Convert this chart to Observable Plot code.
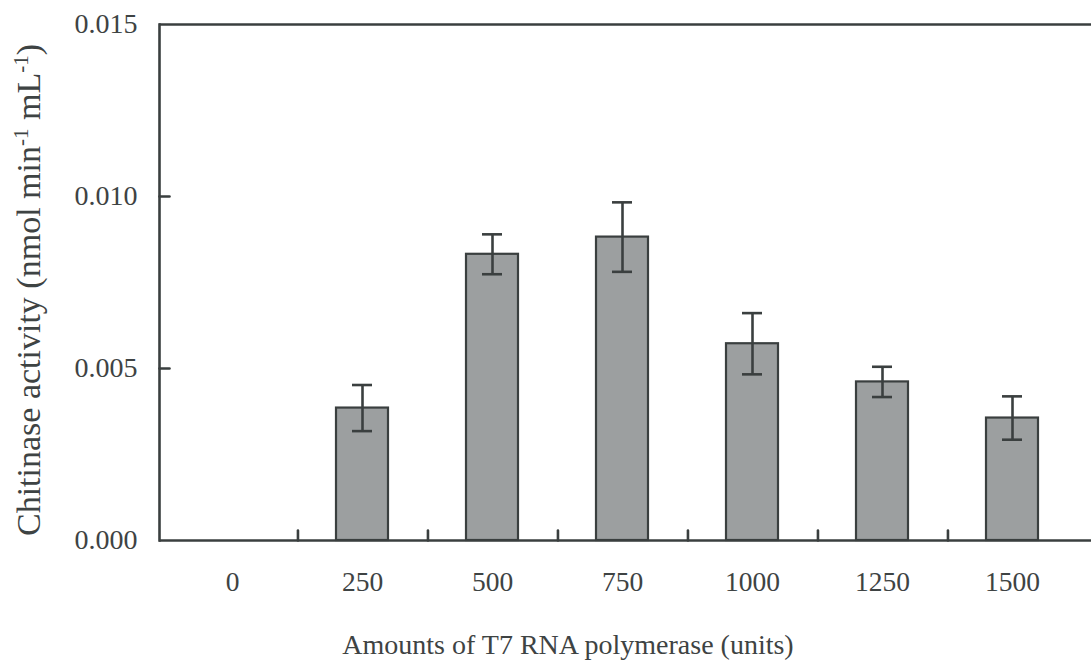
<!DOCTYPE html>
<html>
<head>
<meta charset="utf-8">
<script src="https://cdn.jsdelivr.net/npm/d3@7"></script>
<script src="https://cdn.jsdelivr.net/npm/@observablehq/plot@0.6"></script>
<style>
  html, body { margin: 0; padding: 0; background: #fff; }
  #chart { width: 1091px; height: 665px; }
</style>
</head>
<body>
<div id="chart"></div>
<script>
// ---- data ----
const categories = ["0", "250", "500", "750", "1000", "1250", "1500"];
const activity   = [0, 0.00385, 0.00832, 0.00882, 0.00572, 0.00461, 0.00356];
const errors     = [0, 0.00067, 0.00058, 0.00101, 0.00089, 0.00044, 0.00063];
const yTickValues = [0, 0.005, 0.010, 0.015];
const xTitle = "Amounts of T7 RNA polymerase (units)";
const yTitleParts = [
  {t: "Chitinase activity (nmol min", sup: false},
  {t: "-1", sup: true},
  {t: " mL", sup: false},
  {t: "-1", sup: true},
  {t: ")", sup: false}
];

const rows = categories.map((c, i) => ({cat: c, v: activity[i], e: errors[i]}));
const drawn = rows.filter(d => d.v > 0);

const W = 1091, H = 665;
const xRange = [164, 1080.5];
const step = (xRange[1] - xRange[0]) / categories.length;
const ink = "#3a3f3f";
const textInk = "#3e4343";
const font = "'Liberation Serif', 'Times New Roman', serif";

const lineShape = {draw(ctx, l) { ctx.moveTo(0, 0); ctx.lineTo(0, -l); }};

const plot = Plot.plot({
  width: W,
  height: H,
  marginLeft: 159,
  marginRight: 0,
  marginTop: 24,
  marginBottom: 125,
  style: {fontFamily: font, color: textInk, background: "#fff"},
  x: {type: "band", domain: categories, range: xRange, paddingInner: 0.6, paddingOuter: 0.3},
  y: {domain: [0, 0.015]},
  marks: [
    Plot.barY(drawn, {x: "cat", y: "v", fill: "#9c9fa0", stroke: ink, strokeWidth: 2.2}),
    Plot.ruleX(drawn, {x: "cat", y1: d => d.v - d.e, y2: d => d.v + d.e, stroke: ink, strokeWidth: 2.6}),
    Plot.tickY(drawn, {x: "cat", y: d => d.v - d.e, stroke: ink, strokeWidth: 2.6, inset: 16}),
    Plot.tickY(drawn, {x: "cat", y: d => d.v + d.e, stroke: ink, strokeWidth: 2.6, inset: 16}),
    Plot.ruleY([0, 0.015], {stroke: ink, strokeWidth: 2.6}),
    Plot.frame({anchor: "left", stroke: ink, strokeWidth: 2.6}),
    // inward y ticks
    Plot.vector(yTickValues.slice(1, 3), {y: d => d, frameAnchor: "left", length: 10, rotate: 90, anchor: "start", shape: lineShape, stroke: ink, strokeWidth: 2.6}),
    // inward x ticks between categories
    Plot.vector(categories.slice(0, -1), {x: d => d, dx: step / 2, frameAnchor: "bottom", length: 10, rotate: 0, anchor: "start", shape: lineShape, stroke: ink, strokeWidth: 2.6}),
    Plot.axisY(yTickValues, {tickSize: 0, tickPadding: 22, tickFormat: d3.format(".3f"), fontSize: 28, label: null, fill: textInk}),
    Plot.axisX({tickSize: 0, tickPadding: 31, fontSize: 27.5, label: null, fill: textInk}),
    Plot.text([xTitle], {text: d => d, frameAnchor: "bottom", dx: 567.5 - (159 + W) / 2, dy: 113, fontSize: 28, fill: textInk, lineAnchor: "bottom", fontFamily: font})
  ]
});

document.getElementById("chart").appendChild(plot);

// y-axis title with real superscripts
const svg = d3.select(plot);
const yt = svg.append("text")
  .attr("transform", "translate(40,290) rotate(-90)")
  .attr("text-anchor", "middle")
  .attr("font-family", font)
  .attr("font-size", 34)
  .attr("fill", textInk);
yTitleParts.forEach(p => {
  const ts = yt.append("tspan").text(p.t);
  if (p.sup) ts.attr("font-size", 21).attr("baseline-shift", "super").attr("dy", null);
});
</script>
</body>
</html>
